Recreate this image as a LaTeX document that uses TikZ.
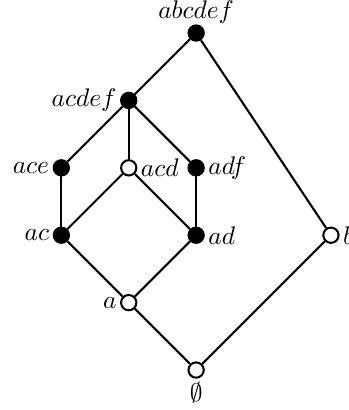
\documentclass[tikz,border=0pt]{standalone}
\usepackage{amsmath}
\usepackage{tikz}

\begin{document}
\begin{tikzpicture}
  [x=.93cm,y=.93cm,thick,every label/.style={inner sep=1pt},
   full/.style={draw,circle,fill=black,inner sep=0pt,minimum size=6pt},
   hollow/.style={draw,circle,fill=white,inner sep=0pt,minimum size=6pt}]
  \useasboundingbox (-2.91,-0.593) rectangle (2.254,5.49);
  \node[hollow,label=below:$\emptyset$] (n0) at (0,0) {};
  \node[hollow,label=left:$a$] (na) at (-1,1) {};
  \node[full,label=left:$ac$] (nac) at (-2,2) {};
  \node[full,label=right:$ad$] (nad) at (0,2) {};
  \node[hollow,label=right:$b$] (nb) at (2,2) {};
  \node[full,label=left:$ace$] (nace) at (-2,3) {};
  \node[hollow,label=right:$acd$] (nacd) at (-1,3) {};
  \node[full,label=right:$adf$] (nadf) at (0,3) {};
  \node[full,label=left:$acdef$] (nacdef) at (-1,4) {};
  \node[full,label={[inner sep=0pt]above:$abcdef$}] (nabcdef) at (0,5) {};
  \foreach \from/\to in {n0/na,n0/nb,na/nac,na/nad,nac/nace,nac/nacd,nad/nacd,nad/nadf,nace/nacdef,nacd/nacdef,nadf/nacdef,nacdef/nabcdef,nb/nabcdef}
    \draw (\from) -- (\to);
\end{tikzpicture}
\end{document}
